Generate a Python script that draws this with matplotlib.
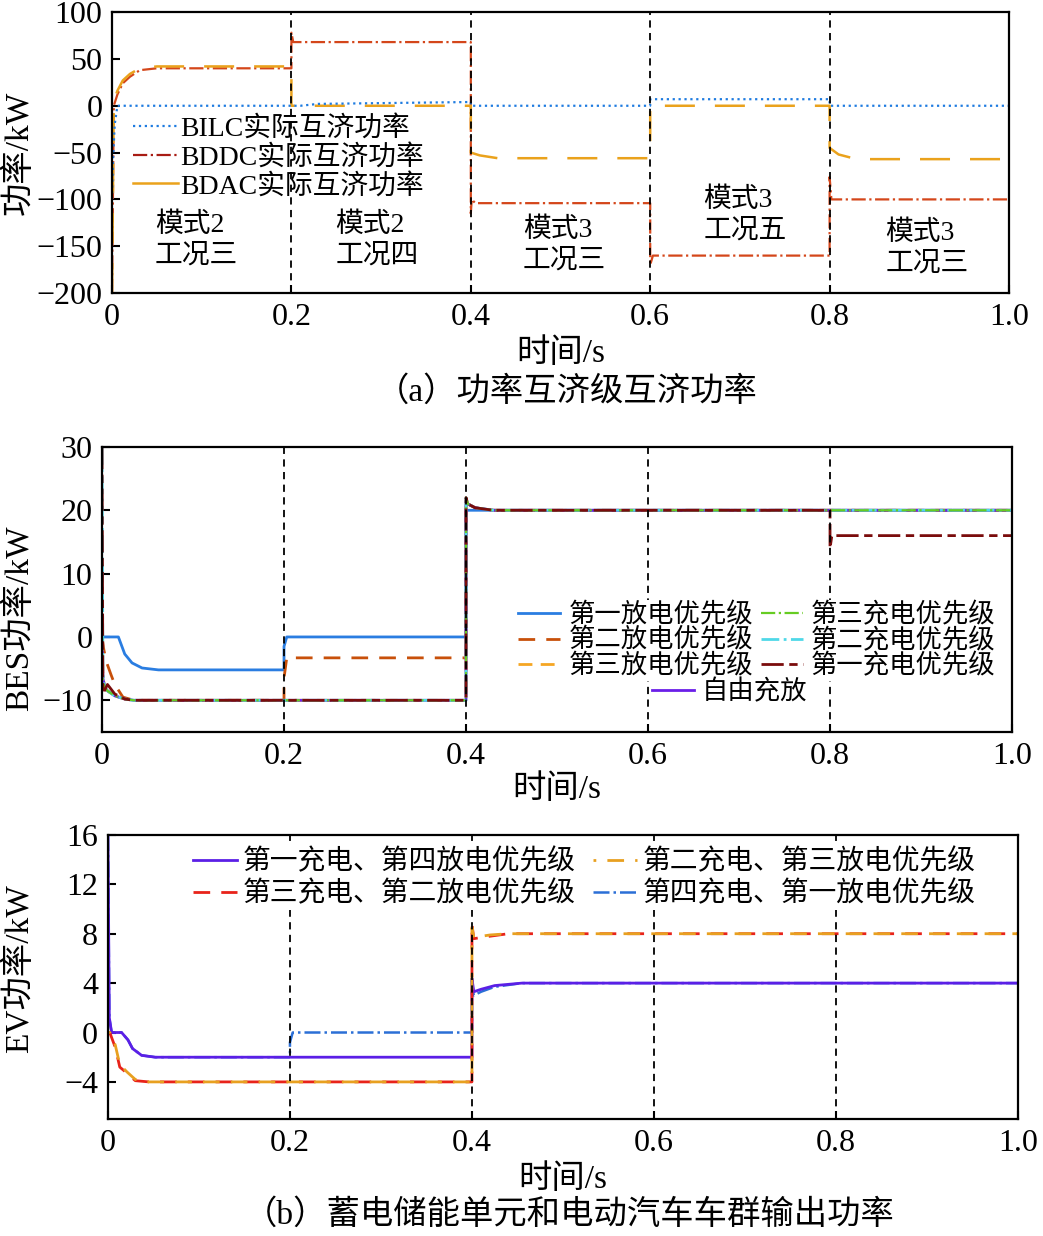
import numpy as np
import matplotlib
matplotlib.use('Agg')
from matplotlib import pyplot as plt
from matplotlib.lines import Line2D

plt.rcParams['font.family'] = ['Liberation Serif', 'Noto Sans CJK SC']
plt.rcParams['axes.unicode_minus'] = True

# shared x axis
x_ticks = [0, 0.2, 0.4, 0.6, 0.8, 1.0]
x_tick_labels = ['0', '0.2', '0.4', '0.6', '0.8', '1.0']
mode_switch = [0.2, 0.4, 0.6, 0.8]

# (a) interconnection power, kW
t_bilc = [0, 0.001, 0.003, 0.006, 0.2, 0.21, 0.23, 0.4, 0.4, 0.6, 0.6, 0.8, 0.8, 1.0]
p_bilc = [-100, -60, -20, 0, 0, 0, 2, 4, 0, 0, 7, 7, 0, 0]
t_bddc = [0, 0.002, 0.006, 0.012, 0.02, 0.031, 0.05, 0.2, 0.2, 0.202, 0.4, 0.4,
          0.401, 0.405, 0.6, 0.6, 0.603, 0.8, 0.8, 0.802, 1.0]
p_bddc = [-200, 0, 12, 24, 31, 38, 40, 40, 78, 68, 68, -115, -100, -104, -104,
          -170, -160, -160, -76, -100, -100]
t_bdac = [0, 0.002, 0.006, 0.012, 0.02, 0.031, 0.05, 0.2, 0.2, 0.4, 0.4, 0.41,
          0.43, 0.6, 0.6, 0.8, 0.8, 0.81, 0.83, 1.0]
p_bdac = [-200, 5, 16, 27, 34, 40, 42, 42, 0, 0, -50, -53, -56, -56, 0, 0, -45,
          -52, -57, -57]
labels_a = ['BILC实际互济功率', 'BDDC实际互济功率', 'BDAC实际互济功率']
modes_a = ['模式2\n工况三', '模式2\n工况四', '模式3\n工况三', '模式3\n工况五', '模式3\n工况三']
modes_x = [0.048, 0.249, 0.458, 0.659, 0.862]
modes_y = [-144, -144, -149, -117, -152]

# (b-1) BES power, kW
t_dis1 = [0, 0.018, 0.025, 0.033, 0.044, 0.062, 0.2, 0.2, 0.203, 0.4, 0.4, 1.0]
p_dis1 = [0, 0, -2.7, -4.1, -4.9, -5.2, -5.2, -1.5, 0, 0, 20, 20]
t_dis2 = [0, 0.002, 0.005, 0.01, 0.014, 0.023, 0.035, 0.2, 0.2, 0.203, 0.4, 0.4,
          0.402, 0.41, 0.43, 1.0]
p_dis2 = [0, -2, -4, -6, -7.5, -9.5, -10, -10, -6.5, -3.3, -3.3, 22, 21, 20.4, 20, 20]
t_bes = [0, 0.001, 0.003, 0.006, 0.014, 0.025, 0.035, 0.4, 0.4, 0.402, 0.41, 0.43, 1.0]
p_dis3 = [0, -6, -8, -8.5, -9.3, -9.8, -10, -10, 22, 21, 20.4, 20, 20]
p_chg3 = [0, -7, -8, -8.5, -9.3, -9.8, -10, -10, 22, 21, 20.4, 20, 20]
p_chg2 = [30, -6, -8, -8.5, -9.3, -9.8, -10, -10, 22, 21, 20.4, 20, 20]
p_free = [0, -6.5, -8, -8.5, -9.3, -9.8, -10, -10, 21.5, 21, 20.4, 20, 20]
t_chg1 = [0, 0.001, 0.006, 0.014, 0.025, 0.035, 0.4, 0.4, 0.402, 0.41, 0.43, 0.8,
          0.8, 0.802, 1.0]
p_chg1 = [30, -9, -7.5, -9, -9.8, -10, -10, 22, 21, 20.4, 20, 20, 14, 16, 16]
labels_bes = ['第一放电优先级', '第二放电优先级', '第三放电优先级',
              '第三充电优先级', '第二充电优先级', '第一充电优先级', '自由充放']

# (b-2) EV fleet power, kW
t_ev1 = [0, 0.0015, 0.004, 0.015, 0.022, 0.027, 0.037, 0.052, 0.4, 0.4, 0.402,
         0.41, 0.425, 0.455, 1.0]
p_ev1 = [16, 1.2, 0, 0, -0.6, -1.3, -1.85, -2.0, -2.0, 4.4, 3.3, 3.5, 3.8, 4.0, 4.0]
t_ev4 = [0, 0.0015, 0.004, 0.015, 0.022, 0.027, 0.037, 0.052, 0.2, 0.2, 0.203,
         0.4, 0.4, 0.402, 0.41, 0.425, 0.455, 1.0]
p_ev4 = [16, 1.2, 0, 0, -0.6, -1.3, -1.85, -2.0, -2.0, -0.8, 0, 0, 4.2, 3.0, 3.3,
         3.7, 4.0, 4.0]
t_ev23 = [0, 0.002, 0.008, 0.013, 0.021, 0.03, 0.045, 0.4, 0.4, 0.402, 0.42, 0.44, 1.0]
p_ev3 = [0, 0, -1.2, -2.8, -3.3, -3.9, -4.0, -4.0, 8.8, 7.6, 7.8, 8.0, 8.0]
p_ev2 = [0, 0, -1.0, -2.6, -3.2, -3.8, -4.0, -4.0, 8.5, 7.7, 7.9, 8.0, 8.0]
labels_ev = ['第一充电、第四放电优先级', '第三充电、第二放电优先级',
             '第二充电、第三放电优先级', '第四充电、第一放电优先级']

fig = plt.figure(figsize=(10.43, 12.36), dpi=100)
ax1 = fig.add_axes([0.1074, 0.7629, 0.860, 0.2273])
ax2 = fig.add_axes([0.0978, 0.4078, 0.8725, 0.2306])
ax3 = fig.add_axes([0.1035, 0.0947, 0.8725, 0.2298])


def style(ax, ylim, yticks):
    ax.set_xlim(0, 1)
    ax.set_ylim(*ylim)
    ax.set_xticks(x_ticks)
    ax.set_xticklabels(x_tick_labels)
    ax.set_yticks(yticks)
    ax.tick_params(direction='in', length=6, width=1.5, labelsize=23, pad=7)
    for s in ax.spines.values():
        s.set_linewidth(1.6)
    for xv in mode_switch:
        ax.axvline(xv, color='k', ls=(0, (4, 3)), lw=1.3, zorder=3)
    ax.set_xlabel('时间/s', fontsize=24)


# ---- (a)
style(ax1, (-200, 100), [-200, -150, -100, -50, 0, 50, 100])
ax1.plot(t_bddc, p_bddc, color='#d4461a', ls='-.', lw=1.6)
ax1.plot(t_bdac, p_bdac, color='#eaa21c', ls=(0, (12, 8)), lw=1.8)
ax1.plot(t_bilc, p_bilc, color='#1e7be0', ls=':', lw=1.6)
hand_a = [Line2D([], [], color='#1e7be0', ls=':', lw=1.6),
          Line2D([], [], color='#a81c14', ls='-.', lw=1.6),
          Line2D([], [], color='#eaa21c', ls='-', lw=1.8)]
ax1.legend(hand_a, labels_a, loc='upper left', bbox_to_anchor=(0.005, 0.69),
           frameon=False, fontsize=20, handlelength=1.6, handletextpad=0.1,
           labelspacing=0.1, borderpad=0.1)
for s, xx, yy in zip(modes_a, modes_x, modes_y):
    ax1.text(xx, yy, s, fontsize=20, ha='left', va='center', linespacing=1.3)
ax1.set_ylabel('功率/kW', fontsize=24)
ax1.yaxis.set_label_coords(-0.086, 0.5)
ax1.xaxis.set_label_coords(0.5, -0.16)

# ---- (b-1)
style(ax2, (-15, 30), [-10, 0, 10, 20, 30])
l1, = ax2.plot(t_dis1, p_dis1, color='#2a7de1', lw=2)
l2, = ax2.plot(t_dis2, p_dis2, color='#c8500a', ls=(0, (6, 4)), lw=2)
l3, = ax2.plot(t_bes, p_dis3, color='#f5a623', ls=(0, (5, 3)), lw=2)
l7, = ax2.plot(t_bes, p_free, color='#6a1ee8', lw=2)
l5, = ax2.plot(t_bes, p_chg2, color='#4fd8e8', ls='-.', lw=2)
l4, = ax2.plot(t_bes, p_chg3, color='#66cc22', ls='-.', lw=1.6)
l6, = ax2.plot(t_chg1, p_chg1, color='#7a0c0c', ls=(0, (8, 2, 3, 2)), lw=2)
leg = ax2.legend([l1, l2, l3, l4, l5, l6], labels_bes[:6], ncol=2,
                 loc='upper left', bbox_to_anchor=(0.44, 0.51), fontsize=19,
                 handlelength=1.6, handletextpad=0.3, columnspacing=0.3,
                 labelspacing=0.0, borderpad=0.1, fancybox=False,
                 framealpha=1, edgecolor='none')
ax2.add_artist(leg)
ax2.legend([l7], labels_bes[6:], loc='center', bbox_to_anchor=(0.69, 0.14),
           fontsize=19, handlelength=1.6, handletextpad=0.3, borderpad=0.1,
           fancybox=False, framealpha=1, edgecolor='none')
ax2.set_ylabel('BES功率/kW', fontsize=24)
ax2.yaxis.set_label_coords(-0.074, 0.40)
ax2.xaxis.set_label_coords(0.5, -0.15)

# ---- (b-2)
style(ax3, (-7, 16), [-4, 0, 4, 8, 12, 16])
e4, = ax3.plot(t_ev4, p_ev4, color='#2b6fd6', ls='-.', lw=1.8)
e1, = ax3.plot(t_ev1, p_ev1, color='#5b1fe6', lw=2)
e3, = ax3.plot(t_ev23, p_ev3, color='#e8231a', ls=(0, (6, 4)), lw=2)
e2, = ax3.plot(t_ev23, p_ev2, color='#e8a020', ls=(5, (6, 4)), lw=2)
ax3.legend([e1, e3, e2, e4], labels_ev, ncol=2, loc='upper left',
           bbox_to_anchor=(0.075, 1.01), fontsize=20, handlelength=1.6,
           handletextpad=0.2, columnspacing=0.6, labelspacing=0.2,
           borderpad=0.1, fancybox=False, framealpha=1, edgecolor='none')
ax3.set_ylabel('EV功率/kW', fontsize=24)
ax3.yaxis.set_label_coords(-0.080, 0.53)
ax3.xaxis.set_label_coords(0.5, -0.16)

fig.text(0.543, 0.683, '（a）功率互济级互济功率', fontsize=24, ha='center', va='center')
fig.text(0.546, 0.017, '（b）蓄电储能单元和电动汽车车群输出功率', fontsize=24,
         ha='center', va='center')

fig.savefig('out.png', dpi=100)
